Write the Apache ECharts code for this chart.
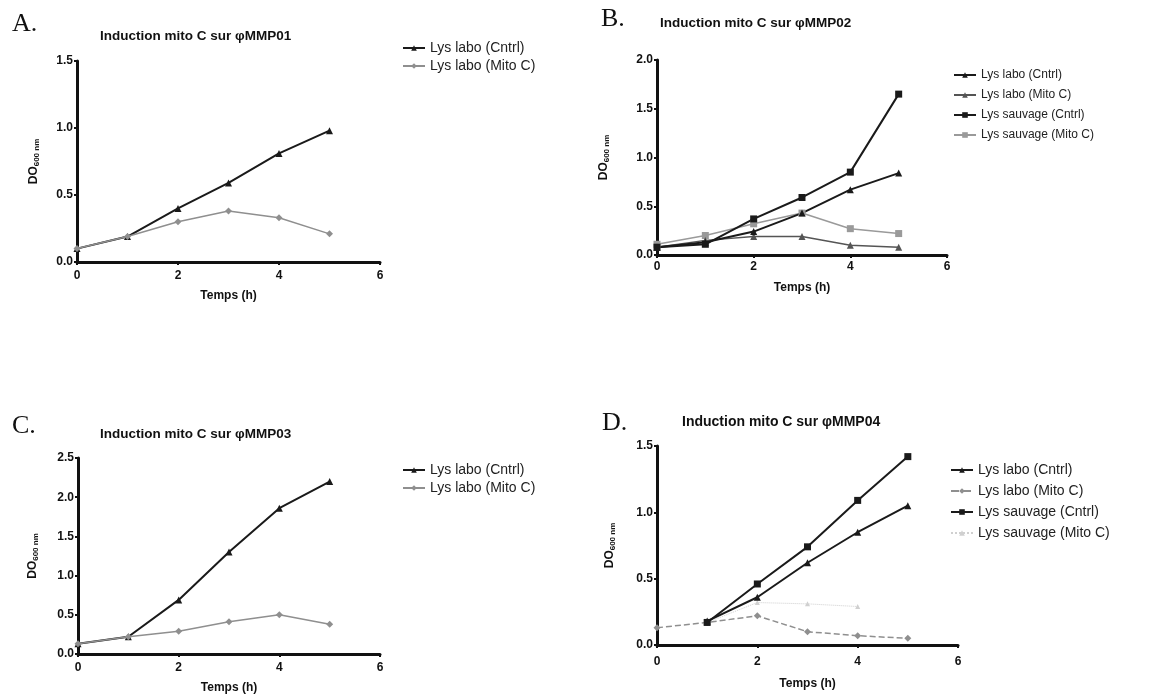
<!DOCTYPE html>
<html>
<head>
<meta charset="utf-8">
<script src="https://cdn.jsdelivr.net/npm/echarts@6/dist/echarts.min.js"></script>
<style>html,body{margin:0;padding:0;background:#fff}#c{width:1157px;height:698px}</style>
</head>
<body>
<div id="c"></div>
<script>
// ---- data ----
const hours = [0, 1, 2, 3, 4, 5];
const xTicks = ['0', '2', '4', '6'];
const panelLetters = ['A.', 'B.', 'C.', 'D.'];
const panelTitles = ['Induction mito C sur \u03c6MMP01', 'Induction mito C sur \u03c6MMP02', 'Induction mito C sur \u03c6MMP03', 'Induction mito C sur \u03c6MMP04'];
const seriesNames = ['Lys labo (Cntrl)', 'Lys labo (Mito C)', 'Lys sauvage (Cntrl)', 'Lys sauvage (Mito C)'];
const yMaxA = 1.5, yMaxB = 2.0, yMaxC = 2.5, yMaxD = 1.5;

const A_laboCntrl = [0.10, 0.19, 0.40, 0.59, 0.81, 0.98];
const A_laboMito  = [0.10, 0.19, 0.30, 0.38, 0.33, 0.21];

const B_laboCntrl = [0.08, 0.13, 0.24, 0.43, 0.67, 0.84];
const B_laboMito  = [0.08, 0.15, 0.19, 0.19, 0.10, 0.08];
const B_sauvCntrl = [0.08, 0.11, 0.37, 0.59, 0.85, 1.65];
const B_sauvMito  = [0.11, 0.20, 0.32, 0.43, 0.27, 0.22];

const C_laboCntrl = [0.13, 0.22, 0.69, 1.30, 1.86, 2.20];
const C_laboMito  = [0.13, 0.22, 0.29, 0.41, 0.50, 0.38];

const D_laboCntrl = [null, 0.18, 0.36, 0.62, 0.85, 1.05];
const D_laboMito  = [0.13, 0.17, 0.22, 0.10, 0.07, 0.05];
const D_sauvCntrl = [null, 0.17, 0.46, 0.74, 1.09, 1.42];
const D_sauvMito  = [null, 0.17, 0.32, 0.31, 0.29, null];

// ---- build ----
const pairs = arr => hours.map((h, i) => arr[i] == null ? null : [h, arr[i]]).filter(p => p);
const grids = [
  {left: 77, top: 61, width: 303, height: 201},
  {left: 657, top: 60, width: 290, height: 195},
  {left: 78, top: 458, width: 302, height: 196},
  {left: 657, top: 446, width: 301, height: 199}
];
const yMax = [yMaxA, yMaxB, yMaxC, yMaxD];
const xLabelMargin = [8, 6, 8, 11];
const xNameGap = [28, 27, 28, 33];
const yNameGap = [36, 46, 38, 40];
const sans = 'Liberation Sans, Arial, sans-serif';

const xAxes = grids.map((g, i) => ({
  type: 'value', gridIndex: i, min: 0, max: 6, interval: 2,
  axisLine: {lineStyle: {color: '#111', width: 3}},
  axisTick: {length: 3, lineStyle: {color: '#111', width: 2}},
  splitLine: {show: false},
  axisLabel: {color: '#111', fontWeight: 'bold', fontSize: 12, fontFamily: sans, margin: xLabelMargin[i],
    formatter: v => xTicks[Math.round(v / 2)]},
  name: 'Temps (h)', nameLocation: 'middle', nameGap: xNameGap[i],
  nameTextStyle: {color: '#111', fontWeight: 'bold', fontSize: 12, fontFamily: sans}
}));
const yAxes = grids.map((g, i) => ({
  type: 'value', gridIndex: i, min: 0, max: yMax[i], interval: 0.5,
  axisLine: {show: true, lineStyle: {color: '#111', width: 3}},
  axisTick: {show: true, length: 3, lineStyle: {color: '#111', width: 2}},
  splitLine: {show: false},
  axisLabel: {color: '#111', fontWeight: 'bold', fontSize: 12, fontFamily: sans, margin: 4,
    formatter: v => v.toFixed(1)},
  name: '{a|DO}{b|600 nm}', nameLocation: 'middle', nameGap: yNameGap[i],
  nameTextStyle: {rich: {
    a: {color: '#111', fontWeight: 'bold', fontSize: 12, fontFamily: sans},
    b: {color: '#111', fontWeight: 'bold', fontSize: 8, fontFamily: sans, padding: [6, 0, 0, 0]}
  }}
}));

const styles = {
  laboCntrl: {color: '#1a1a1a', width: 2, symbol: 'triangle', type: 'solid'},
  laboMito:  {color: '#8f8f8f', width: 1.5, symbol: 'diamond', type: 'solid'},
  sauvCntrl: {color: '#1a1a1a', width: 2, symbol: 'rect', type: 'solid'},
  sauvMito:  {color: '#9a9a9a', width: 1.5, symbol: 'rect', type: 'solid'}
};
function mk(panel, idx, key, arr, override) {
  const s = Object.assign({}, styles[key], override || {});
  return {
    name: panel + '|' + seriesNames[idx], type: 'line', xAxisIndex: 'ABCD'.indexOf(panel), yAxisIndex: 'ABCD'.indexOf(panel),
    data: pairs(arr), symbol: s.symbol, symbolSize: s.size || 7, showSymbol: true,
    lineStyle: {color: s.color, width: s.width, type: s.type},
    itemStyle: {color: s.color},
    animation: false
  };
}
const series = [
  mk('A', 0, 'laboCntrl', A_laboCntrl),
  mk('A', 1, 'laboMito', A_laboMito),
  mk('B', 3, 'sauvMito', B_sauvMito),
  mk('B', 1, 'laboMito', B_laboMito, {color: '#555', symbol: 'triangle'}),
  mk('B', 0, 'laboCntrl', B_laboCntrl),
  mk('B', 2, 'sauvCntrl', B_sauvCntrl),
  mk('C', 0, 'laboCntrl', C_laboCntrl),
  mk('C', 1, 'laboMito', C_laboMito),
  mk('D', 3, 'sauvMito', D_sauvMito, {color: '#d0d0d0', width: 1, type: 'dotted', symbol: 'triangle', size: 5}),
  mk('D', 1, 'laboMito', D_laboMito, {type: 'dashed'}),
  mk('D', 0, 'laboCntrl', D_laboCntrl),
  mk('D', 2, 'sauvCntrl', D_sauvCntrl)
];

const legendPos = [
  {left: 397, top: 36, itemGap: 4, font: 14, n: 2},
  {left: 948, top: 64, itemGap: 8, font: 12, n: 4},
  {left: 397, top: 458, itemGap: 4, font: 14, n: 2},
  {left: 945, top: 458, itemGap: 7, font: 14, n: 4}
];
const legends = legendPos.map((p, i) => ({
  left: p.left, top: p.top, orient: 'vertical', itemGap: p.itemGap, itemWidth: 22, itemHeight: 7,
  data: seriesNames.slice(0, p.n).map(n => 'ABCD'[i] + '|' + n),
  formatter: n => n.split('|')[1],
  textStyle: {color: '#222', fontSize: p.font, fontFamily: sans},
  selectedMode: false
}));

const titles = [];
const letterPos = [[7, 6], [596, 1], [7, 408], [597, 405]];
const titlePos = [[95, 24], [655, 11], [95, 422], [677, 410]];
const titleSize = [13.5, 13.5, 13.5, 14];
panelLetters.forEach((t, i) => titles.push({text: t, left: letterPos[i][0], top: letterPos[i][1],
  textStyle: {fontFamily: 'Liberation Serif, Times New Roman, serif', fontWeight: 'normal', fontSize: 26, color: '#111'}}));
panelTitles.forEach((t, i) => titles.push({text: t, left: titlePos[i][0], top: titlePos[i][1],
  textStyle: {fontFamily: sans, fontWeight: 'bold', fontSize: titleSize[i], color: '#111'}}));

const chart = echarts.init(document.getElementById('c'), null, {renderer: 'canvas'});
chart.setOption({
  backgroundColor: '#fff',
  animation: false,
  title: titles,
  grid: grids,
  xAxis: xAxes,
  yAxis: yAxes,
  legend: legends,
  series: series
});
</script>
</body>
</html>
